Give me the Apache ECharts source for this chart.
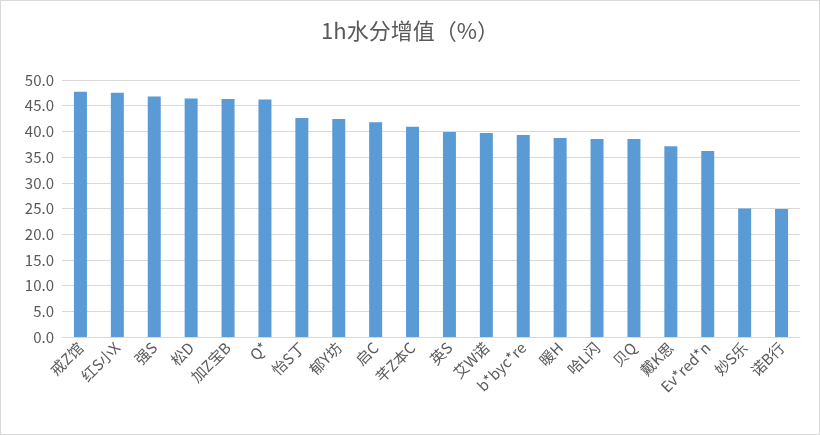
<!DOCTYPE html><html><head><meta charset="utf-8"><script src="https://cdn.jsdelivr.net/npm/echarts@6/dist/echarts.min.js"></script>
<style>body{margin:0}#c{width:818px;height:433px;border:1px solid #d9d9d9}</style></head><body><div id="c"></div><script>
const categories=["戒Z馆","红S小X","强S","松D","加Z宝B","Q*","怡S丁","郁Y坊","启C","芊Z本C","英S","艾W诺","b*byc*re","暖H","哈L闪","贝Q","戴K思","Ev*red*n","妙S乐","诺B行"];
const values=[47.7,47.5,46.8,46.4,46.3,46.2,42.6,42.4,41.8,40.9,39.9,39.7,39.3,38.7,38.5,38.5,37.1,36.2,25.0,24.9];
const f='"Microsoft YaHei","Noto Sans CJK SC",sans-serif';
echarts.init(document.getElementById('c')).setOption({animation:false,
title:{text:'1h水分增值（%）',left:'center',top:14,textStyle:{fontFamily:f,fontSize:22,fontWeight:'normal',color:'#595959'}},
grid:{left:61,right:19,top:79,bottom:97},
xAxis:{type:'category',data:categories,axisTick:{show:false},axisLine:{lineStyle:{color:'#d9d9d9'}},axisLabel:{rotate:45,interval:0,fontFamily:f,fontSize:15,color:'#595959',margin:8}},
yAxis:{type:'value',min:0,max:50,interval:5,axisLabel:{formatter:v=>v.toFixed(1),fontSize:15,color:'#595959',fontFamily:f},splitLine:{lineStyle:{color:'#d9d9d9'}}},
series:[{type:'bar',data:values,barWidth:13,itemStyle:{color:'#5b9bd5'}}]});
</script></body></html>
